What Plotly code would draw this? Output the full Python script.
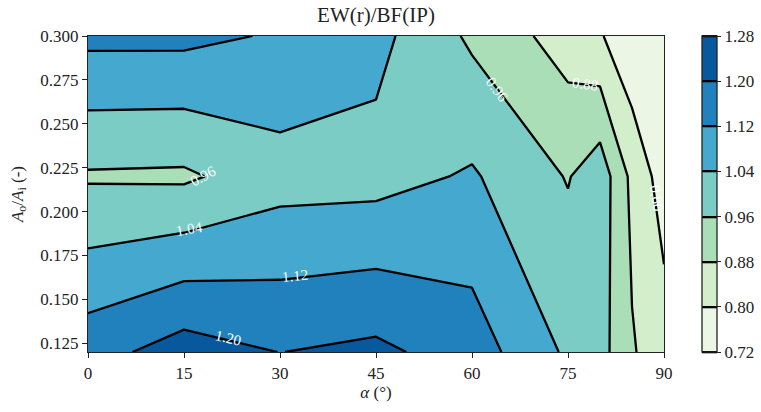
import plotly.graph_objects as go

# grid of the parameter study
alpha = [0, 15, 30, 45, 60, 75, 80, 85, 90]          # x (degrees)
area_ratio = [0.12, 0.22, 0.30]                       # y (A_o/A_i)

# EW(r)/BF(IP) values, one list per area ratio
ratio_at_012 = [1.168, 1.237, 1.199, 1.218, 1.161, 1.027, 0.991, 0.887, 0.837]
ratio_at_022 = [0.951, 0.947, 1.007, 1.011, 1.049, 0.955, 1.009, 0.860, 0.763]
ratio_at_030 = [1.140, 1.140, 1.112, 1.064, 0.946, 0.843, 0.808, 0.737, 0.730]

levels = [0.72, 0.80, 0.88, 0.96, 1.04, 1.12, 1.20, 1.28]
band_colors = ["#ebf7e4", "#d3eecb", "#aadeb6", "#7bccc4",
               "#45a9cf", "#2181bc", "#08589e"]

x_ticks = [0, 15, 30, 45, 60, 75, 90]
y_ticks = [0.125, 0.150, 0.175, 0.200, 0.225, 0.250, 0.275, 0.300]

# contour-line labels: text, position along the line (alpha, A_o/A_i), angle
label_text = ["0.96", "0.96", "0.88", "0.80", "1.04", "1.12", "1.20"]
label_alpha = [18.0, 64.0, 77.6, 88.8, 15.9, 32.3, 21.9]
label_ratio = [0.2200, 0.2695, 0.2725, 0.2075, 0.1898, 0.1632, 0.1277]
label_angle = [-28, 53, 8, 81, -10, -6, 13]

z = [ratio_at_012, ratio_at_022, ratio_at_030]

nb = len(band_colors)
colorscale = []
for i, c in enumerate(band_colors):
    colorscale.append([i / nb, c])
    colorscale.append([(i + 1) / nb, c])

FONT = "Liberation Serif"

fig = go.Figure(go.Contour(
    x=alpha, y=area_ratio, z=z,
    zmin=levels[0], zmax=levels[-1],
    autocontour=False,
    contours=dict(start=levels[0], end=levels[-1], size=0.08,
                  coloring="fill", showlabels=False),
    line=dict(color="black", width=2.3, smoothing=0),
    colorscale=colorscale,
    colorbar=dict(
        x=(702 - 88) / 576, xanchor="left", xpad=0, ypad=0,
        y=0.5, yanchor="middle", len=1, lenmode="fraction",
        thickness=15, outlinewidth=1.3, outlinecolor="#222",
        tickvals=levels, tickformat=".2f", ticks="outside", ticklen=4,
        tickcolor="#222", tickfont=dict(family=FONT, size=17, color="#222"),
    ),
    hoverinfo="skip",
))

for t, xa, yr, ang in zip(label_text, label_alpha, label_ratio, label_angle):
    fig.add_annotation(x=xa, y=yr, xref="x", yref="y", text=t,
                       showarrow=False, textangle=ang,
                       font=dict(family=FONT, size=15, color="white"))

fig.update_layout(
    width=761, height=412,
    margin=dict(l=88, r=97, t=36, b=60, autoexpand=False),
    paper_bgcolor="white", plot_bgcolor="white",
    font=dict(family=FONT, size=17, color="#222"),
    title=dict(text="EW(r)/BF(IP)", x=0.5, xref="paper", xanchor="center",
               y=1 - 15 / 412, yref="container", yanchor="middle",
               font=dict(family=FONT, size=21, color="#222")),
    xaxis=dict(range=[0, 90], tickvals=x_ticks, ticks="outside", ticklen=5,
               tickcolor="#222", showline=True, linecolor="#222", linewidth=1.3,
               mirror=True, showgrid=False, zeroline=False,
               title=dict(text="<i>α</i> (°)", standoff=4,
                          font=dict(family=FONT, size=17))),
    yaxis=dict(range=[0.12, 0.30], tickvals=y_ticks, tickformat=".3f",
               ticks="outside", ticklen=5, tickcolor="#222",
               showline=True, linecolor="#222", linewidth=1.3, mirror=True,
               showgrid=False, zeroline=False,
               title=dict(text="<i>A</i><sub>o</sub>/<i>A</i><sub>i</sub> (-)",
                          standoff=12, font=dict(family=FONT, size=17))),
)

fig.write_html("out.html",
               config={"displayModeBar": False},
               post_script="document.body.style.margin='0';"
                           "document.body.style.overflow='hidden';")
